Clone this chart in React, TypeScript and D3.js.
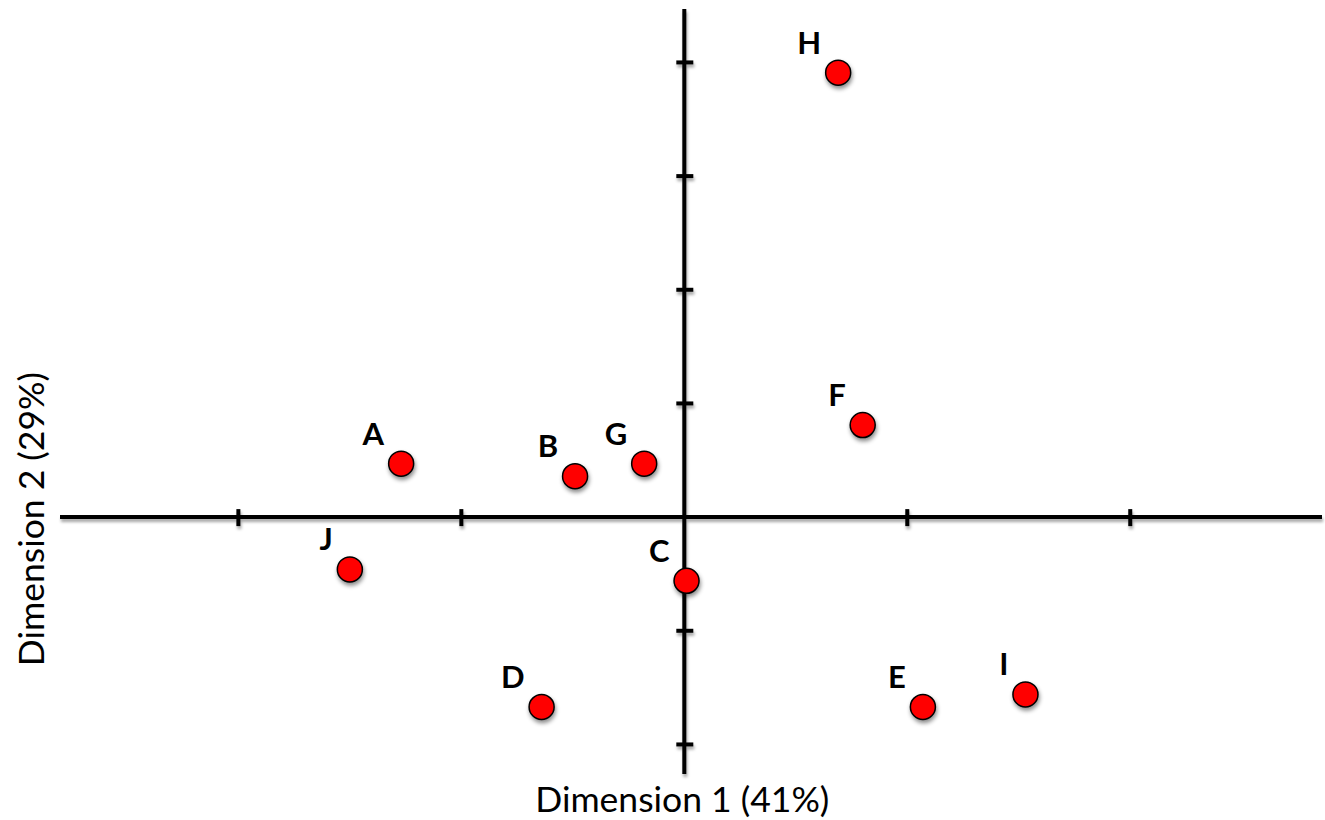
import { useEffect, useRef } from 'react'
import * as d3 from 'd3'

// point labels and coordinates (in axis tick units)
const labels = ['H', 'F', 'A', 'B', 'G', 'C', 'J', 'D', 'E', 'I']
const dim1 = [0.69, 0.8, -1.27, -0.49, -0.18, 0.01, -1.5, -0.64, 1.07, 1.53]
const dim2 = [3.91, 0.81, 0.47, 0.36, 0.47, -0.56, -0.46, -1.67, -1.67, -1.56]

const xTicks = [-2, -1, 1, 2]
const yTicks = [-2, -1, 1, 2, 3, 4]

const xTitle = 'Dimension 1 (41%)'
const yTitle = 'Dimension 2 (29%)'

const W = 1325
const H = 820

export default function App() {
    const svgRef = useRef<SVGSVGElement | null>(null)

    useEffect(() => {
        if (!svgRef.current) return
        const svg = d3.select(svgRef.current)
        svg.selectAll('*').remove()

        // origin at (684, 517), ~223px per x unit, 113.7px per y unit
        const x = d3.scaleLinear().domain([-2.8, 2.86]).range([60, 1322])
        const y = d3.scaleLinear().domain([-2.26, 4.47]).range([774, 9])

        const defs = svg.append('defs')
        const lineShadow = defs.append('filter').attr('id', 'lineShadow')
            .attr('x', '-10%').attr('y', '-50%').attr('width', '120%').attr('height', '200%')
        lineShadow.append('feDropShadow')
            .attr('dx', 1).attr('dy', 3).attr('stdDeviation', 1.5)
            .attr('flood-color', '#000').attr('flood-opacity', 0.35)
        const dotShadow = defs.append('filter').attr('id', 'dotShadow')
            .attr('x', '-50%').attr('y', '-50%').attr('width', '200%').attr('height', '200%')
        dotShadow.append('feDropShadow')
            .attr('dx', 1).attr('dy', 3).attr('stdDeviation', 2)
            .attr('flood-color', '#000').attr('flood-opacity', 0.45)

        const axes = svg.append('g')
            .attr('stroke', '#000')
            .attr('stroke-width', 4)
            .attr('filter', 'url(#lineShadow)')

        // horizontal axis
        axes.append('line')
            .attr('x1', x.range()[0]).attr('x2', x.range()[1])
            .attr('y1', y(0)).attr('y2', y(0))
        axes.selectAll('.xtick')
            .data(xTicks)
            .enter().append('line')
            .attr('x1', d => x(d)).attr('x2', d => x(d))
            .attr('y1', y(0) - 8).attr('y2', y(0) + 9)

        // vertical axis
        axes.append('line')
            .attr('x1', x(0)).attr('x2', x(0))
            .attr('y1', y.range()[1]).attr('y2', y.range()[0])
        axes.selectAll('.ytick')
            .data(yTicks)
            .enter().append('line')
            .attr('x1', x(0) - 8).attr('x2', x(0) + 9)
            .attr('y1', d => y(d)).attr('y2', d => y(d))

        // points
        const pts = labels.map((l, i) => ({ label: l, d1: dim1[i], d2: dim2[i] }))
        const node = svg.selectAll('.pt')
            .data(pts)
            .enter().append('g')
            .attr('transform', d => `translate(${x(d.d1)},${y(d.d2)})`)

        node.append('circle')
            .attr('r', 12.5)
            .attr('fill', '#ff0000')
            .attr('stroke', '#000')
            .attr('stroke-width', 1.5)
            .attr('filter', 'url(#dotShadow)')

        node.append('text')
            .attr('x', -17)
            .attr('y', -19)
            .attr('text-anchor', 'end')
            .attr('font-family', 'Lato, sans-serif')
            .attr('font-weight', 700)
            .attr('font-size', 31)
            .attr('fill', '#000')
            .text(d => d.label)

        // axis titles
        svg.append('text')
            .attr('x', x(0) - 2)
            .attr('y', 812)
            .attr('text-anchor', 'middle')
            .attr('font-family', 'Lato, sans-serif')
            .attr('font-size', 35.5)
            .attr('fill', '#000')
            .text(xTitle)

        svg.append('text')
            .attr('transform', `translate(44,${y(0) + 2}) rotate(-90)`)
            .attr('text-anchor', 'middle')
            .attr('font-family', 'Lato, sans-serif')
            .attr('font-size', 35.5)
            .attr('fill', '#000')
            .text(yTitle)
    }, [])

    return (
        <svg
            ref={svgRef}
            width={W}
            height={H}
            style={{ position: 'absolute', left: 0, top: 0, background: '#fff' }}
        />
    )
}
